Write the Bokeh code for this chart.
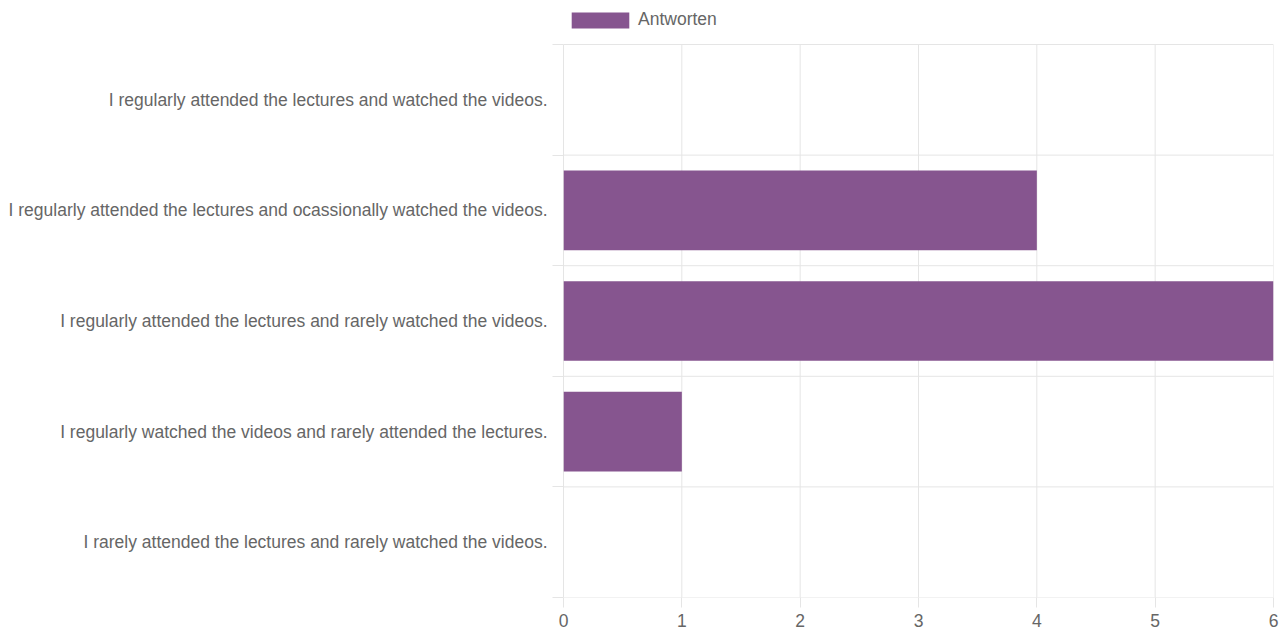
from bokeh.plotting import figure
from bokeh.models import FixedTicker, Legend, LegendItem, ColumnDataSource
from bokeh.embed import file_html
from bokeh.resources import INLINE

categories = [
    "I regularly attended the lectures and watched the videos.",
    "I regularly attended the lectures and ocassionally watched the videos.",
    "I regularly attended the lectures and rarely watched the videos.",
    "I regularly watched the videos and rarely attended the lectures.",
    "I rarely attended the lectures and rarely watched the videos.",
]
values = [0, 4, 6, 1, 0]
series_name = "Antworten"
x_ticks = [0, 1, 2, 3, 4, 5, 6]

n = len(categories)
ypos = [n - 1 - i + 0.5 for i in range(n)]
src = ColumnDataSource(dict(y=ypos, v=values, cat=categories))

FONT = "Liberation Sans"
BAR = "#86558f"
GRID = "#e5e5e5"
TXT = "#666666"
TOP_EXTRA = 0.3255  # room above the categories for the legend

p = figure(width=1283, height=632, x_range=(0, 6), y_range=(0, n + TOP_EXTRA),
           output_backend="svg", toolbar_location=None,
           min_border_left=563, min_border_right=10, min_border_top=8, min_border_bottom=35)
p.outline_line_color = None
p.xgrid.grid_line_color = None
p.ygrid.grid_line_color = None

# grid lines (category boundaries and value ticks), limited to the category area
p.segment(x0=x_ticks[1:], y0=0, x1=x_ticks[1:], y1=n, line_color=GRID, line_width=1)
p.segment(x0=0, y0=list(range(n + 1)), x1=6, y1=list(range(n + 1)), line_color=GRID, line_width=1)
p.segment(x0=0, y0=0, x1=0, y1=n, line_color="#cccccc", line_width=1)

r = p.hbar(y="y", right="v", left=0, height=0.72, source=src,
           fill_color=BAR, line_color=None)

# x axis
p.xaxis.ticker = FixedTicker(ticks=x_ticks)
p.xaxis.axis_line_color = None
p.xaxis.major_tick_in = 0
p.xaxis.major_tick_out = 10
p.xaxis.major_tick_line_color = GRID
p.xaxis.minor_tick_line_color = None
p.xaxis.major_label_text_font = FONT
p.xaxis.major_label_text_font_size = "17.5px"
p.xaxis.major_label_text_color = TXT
p.xaxis.major_label_standoff = 6

# y axis
p.yaxis.ticker = FixedTicker(ticks=ypos, minor_ticks=list(range(n + 1)))
p.yaxis.major_label_overrides = {y: c for y, c in zip(ypos, categories)}
p.yaxis.axis_line_color = None
p.yaxis.major_tick_line_color = None
p.yaxis.major_tick_in = 0
p.yaxis.major_tick_out = 0
p.yaxis.minor_tick_in = 0
p.yaxis.minor_tick_out = 11
p.yaxis.minor_tick_line_color = GRID
p.yaxis.major_label_text_font = FONT
p.yaxis.major_label_text_font_size = "17.5px"
p.yaxis.major_label_text_color = TXT
p.yaxis.major_label_standoff = 5

legend = Legend(items=[LegendItem(label=series_name, renderers=[r])],
                location=(1, 567), orientation="horizontal",
                glyph_width=72, glyph_height=20, label_height=20,
                padding=0, margin=0, spacing=0, label_standoff=2,
                border_line_color=None, background_fill_alpha=0,
                label_text_font=FONT, label_text_font_size="17.5px",
                label_text_color=TXT)
p.add_layout(legend, "center")

open("out.html", "w").write(file_html(p, INLINE))
